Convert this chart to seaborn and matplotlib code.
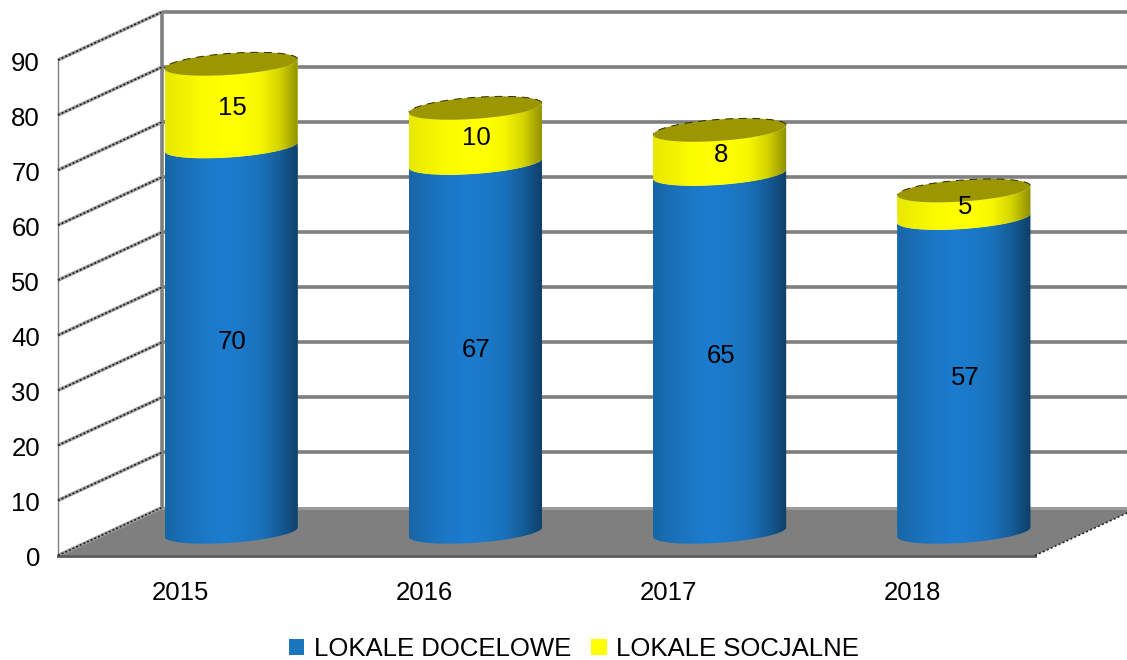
import numpy as np
import pandas as pd
import seaborn as sns
import matplotlib.pyplot as plt
from matplotlib.colors import to_rgb
from matplotlib.patches import Polygon
from matplotlib.path import Path
from matplotlib.transforms import Affine2D

years = ["2015", "2016", "2017", "2018"]
docelowe = [70, 67, 65, 57]
socjalne = [15, 10, 8, 5]
yticks = [0, 10, 20, 30, 40, 50, 60, 70, 80, 90]

BLUE = "#1b75bc"
YELLOW = "#ffff00"
GREY = "#7f7f7f"
blue_stops = ["#1766a6", "#1a70b8", "#1b78c6", "#1c7ccf", "#1b79c8", "#1a72ba", "#155c98", "#0f3f68"]
yellow_stops = ["#e8e800", "#f2f200", "#fbfb00", "#ffff00", "#ffff00", "#f6f600", "#d4d400", "#8e8e00"]

sns.set_style("white")
plt.rcParams["font.family"] = ["Liberation Sans", "DejaVu Sans"]
FS = 18.5

df = pd.DataFrame({"rok": years, "docelowe": docelowe, "socjalne": socjalne})

fig = plt.figure(figsize=(11.27, 6.6), dpi=100)
ax = fig.add_axes([58 / 1127, 104.5 / 660, 977 / 1127, 495.5 / 660])

sns.barplot(data=df, x="rok", y="docelowe", color=BLUE, width=0.545, saturation=1, ax=ax,
            label="LOKALE DOCELOWE", zorder=4)
sns.barplot(data=df, x="rok", y="socjalne", bottom=df["docelowe"], color=YELLOW, width=0.545,
            saturation=1, ax=ax, label="LOKALE SOCJALNE", zorder=4)

ax.set_xlim(-0.5, 3.5)
ax.set_ylim(0, 90)
ax.set_xlabel("")
ax.set_ylabel("")
ax.set_yticks(yticks)
ax.tick_params(axis="y", length=0, pad=13, labelsize=FS, labelcolor="black")
ax.tick_params(axis="x", length=0, pad=18, labelsize=FS, labelcolor="black")
for lab in ax.get_yticklabels():
    lab.set_transform(lab.get_transform() + Affine2D().translate(0, -1.5))
ax.patch.set_alpha(0)
for s in ["top", "right"]:
    ax.spines[s].set_visible(False)
ax.spines["left"].set_color(GREY)
ax.spines["left"].set_linewidth(1.0)
ax.spines["bottom"].set_color("#595959")
ax.spines["bottom"].set_linewidth(2.0)

# depth of the fake 3d box, in pixels
back = ax.transData + Affine2D().translate(104, 48)
mid = ax.transData + Affine2D().translate(51, 23.5)
label_shift = mid + Affine2D().translate(1, -2.5)

# floor
fx = [-0.5, 3.5]
floor_pts = np.vstack([
    ax.transData.transform([(fx[0], 0), (fx[1], 0)]),
    back.transform([(fx[1], 0), (fx[0], 0)]),
])
ax.add_patch(Polygon(floor_pts, closed=True, transform=None, facecolor=GREY, edgecolor="none",
                     clip_on=False, zorder=1))

# back wall
ax.hlines(yticks[1:], -0.5, 3.5, color=GREY, lw=2.6, transform=back, clip_on=False, zorder=2)
ax.hlines([0], -0.5, 3.5, color="#9a9a9a", lw=2.2, transform=back, clip_on=False, zorder=2)
ax.vlines([-0.5], 0, 90, color=GREY, lw=2.6, transform=back, clip_on=False, zorder=2)

# side wall and floor edge diagonals
for v in yticks:
    a = ax.transData.transform((-0.5, v))
    b = back.transform((-0.5, v))
    ax.plot([a[0], b[0]], [a[1], b[1]], transform=None, color="#a0a0a0", lw=2.5, clip_on=False,
            zorder=2, solid_capstyle="butt")
    ax.plot([a[0], b[0]], [a[1], b[1]], transform=None, color="#1f1f1f", lw=1.2, clip_on=False,
            zorder=3, linestyle=(0, (1.2, 1.2)))
a = ax.transData.transform((3.5, 0))
b = back.transform((3.5, 0))
ax.plot([a[0], b[0]], [a[1], b[1]], transform=None, color="#222222", lw=1.2, clip_on=False,
        zorder=3, linestyle=(0, (1.2, 1.4)))


def front_arc(cx, half, base, reverse=False):
    t = np.linspace(np.pi, 2 * np.pi, 60)
    if reverse:
        t = t[::-1]
    return np.column_stack([cx + half * np.cos(t), base + 0.85 * np.cos(t) + 1.95 * np.sin(t)])


def gradient(stops):
    cols = np.array([to_rgb(c) for c in stops])
    pos = np.linspace(0, 1, len(stops))
    u = np.linspace(0, 1, 200)
    return np.dstack([np.interp(u, pos, cols[:, i]) for i in range(3)]).reshape(1, 200, 3)


def body(rect, stops):
    # turn one seaborn bar into a shaded cylinder section
    x0, w = rect.get_x(), rect.get_width()
    y0, h = rect.get_y(), rect.get_height()
    cx, half = x0 + w / 2, w / 2
    pts = np.vstack([front_arc(cx, half, y0), front_arc(cx, half, y0 + h, reverse=True)])
    clip = Path(np.vstack([pts, pts[0]]), closed=True)
    rect.set_transform(mid)
    rect.set_clip_path(clip, mid)
    rect.set_linewidth(0)
    im = ax.imshow(gradient(stops), extent=[x0, x0 + w, y0 - 3, y0 + h + 3], aspect="auto",
                   zorder=5, interpolation="bilinear", transform=mid)
    im.set_clip_path(clip, mid)
    return cx, half, y0 + h


blue_bars, yellow_bars = ax.containers[0], ax.containers[1]
for r_blue, r_yellow, d, s in zip(blue_bars, yellow_bars, docelowe, socjalne):
    cx, half, _ = body(r_blue, blue_stops)
    _, _, top = body(r_yellow, yellow_stops)
    t = np.linspace(0, 2 * np.pi, 120)
    cap = np.column_stack([cx + half * np.cos(t), top + 0.85 * np.cos(t) + 1.95 * np.sin(t)])
    ax.add_patch(Polygon(cap, closed=True, transform=mid, facecolor="#9c9600", edgecolor="none",
                         clip_on=False, zorder=6))
    t2 = np.linspace(0.05, np.pi - 0.05, 60)
    ax.plot(cx + half * np.cos(t2), top + 0.85 * np.cos(t2) + 1.95 * np.sin(t2), transform=mid,
            color="#2a2a00", lw=0.7, clip_on=False, zorder=6, linestyle=(0, (8, 6)))
    ax.text(cx, d / 2, str(d), transform=label_shift, ha="center", va="center", fontsize=FS,
            color="black", zorder=7, clip_on=False)
    ax.text(cx, d + s / 2, str(s), transform=label_shift, ha="center", va="center", fontsize=FS,
            color="black", zorder=7, clip_on=False)

ax.set_xlim(-0.5, 3.5)
ax.set_ylim(0, 90)

handles, labels = ax.get_legend_handles_labels()
ax.get_legend().remove()
fig.legend(handles, labels, loc="center", bbox_to_anchor=(574 / 1127, 1 - 649 / 660), ncol=2,
           frameon=False, fontsize=FS, labelcolor="black", handlelength=0.6, handleheight=0.6,
           handletextpad=0.36, columnspacing=0.8, borderpad=0)

fig.savefig("out.png", dpi=100)
